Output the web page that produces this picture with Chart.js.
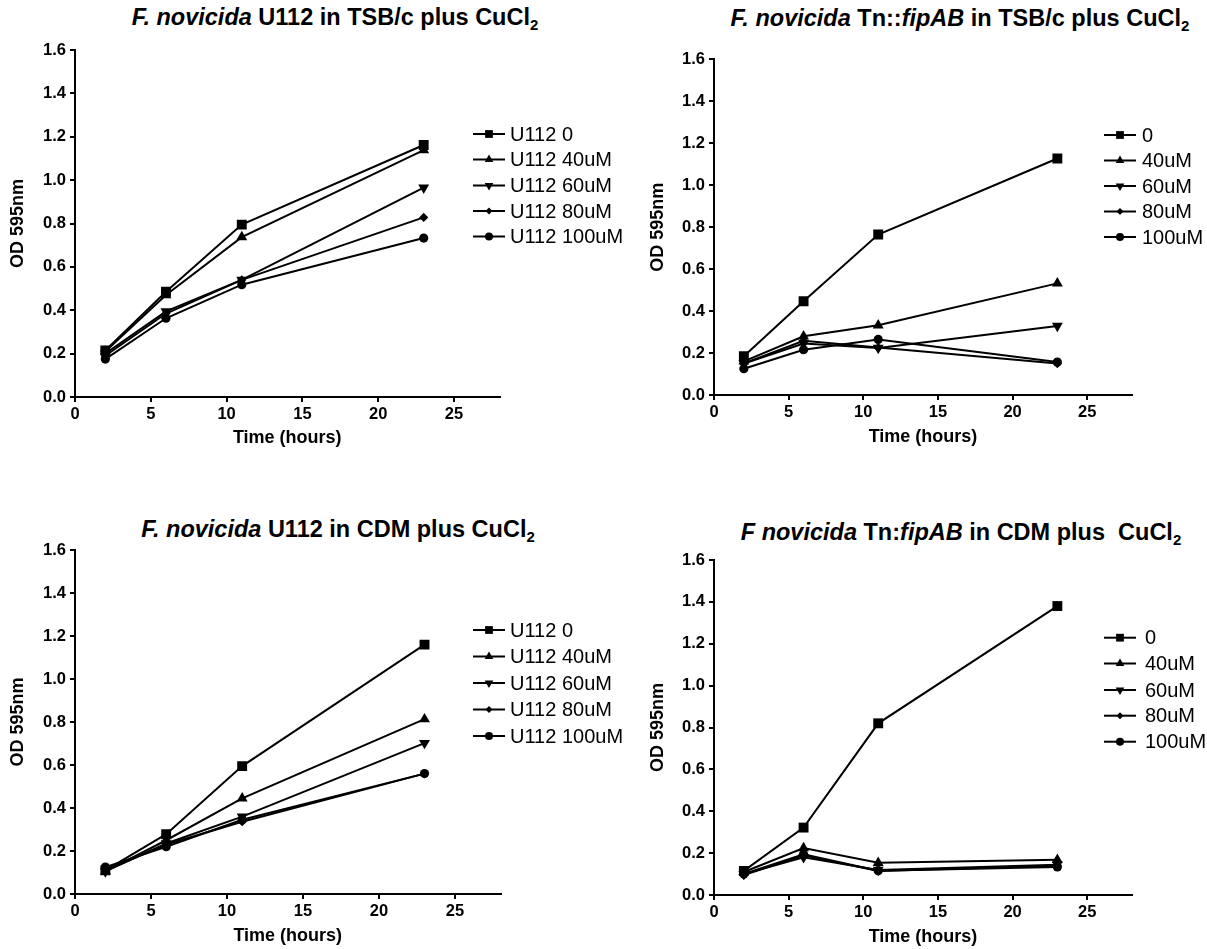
<!DOCTYPE html>
<html><head><meta charset="utf-8">
<script src="https://cdn.jsdelivr.net/npm/chart.js@4.4.1/dist/chart.umd.min.js"></script>
<style>
html,body{margin:0;padding:0;background:#fff;width:1207px;height:949px;overflow:hidden;position:relative;font-family:"Liberation Sans",Arial,sans-serif;}
.title{position:absolute;font-weight:bold;font-size:23.5px;white-space:nowrap;transform:translate(-50%,-50%);color:#000;line-height:1;}
.title sub{font-size:15px;position:relative;top:5px;vertical-align:baseline;line-height:0}
canvas{position:absolute}
</style></head><body>
<div class="title" style="left:335px;top:18px"><i>F. novicida</i> U112 in TSB/c plus CuCl<sub>2</sub></div>
<div class="title" style="left:960px;top:19px"><i>F. novicida</i> Tn::<i>fipAB</i> in TSB/c plus CuCl<sub>2</sub></div>
<div class="title" style="left:338px;top:530px"><i>F. novicida</i> U112 in CDM plus CuCl<sub>2</sub></div>
<div class="title" style="left:961px;top:533px"><i>F novicida</i> Tn:<i>fipAB</i> in CDM plus&nbsp; CuCl<sub>2</sub></div>
<canvas id="c1" width="640" height="470" style="left:0;top:0"></canvas>
<canvas id="c2" width="567" height="470" style="left:640px;top:0"></canvas>
<canvas id="c3" width="640" height="474" style="left:0;top:475px"></canvas>
<canvas id="c4" width="567" height="474" style="left:640px;top:475px"></canvas>
<script>
// ---- data ----
const timeHours = [2, 6, 11, 23];
const xTicks = [0, 5, 10, 15, 20, 25];
const yTicks = [0.0, 0.2, 0.4, 0.6, 0.8, 1.0, 1.2, 1.4, 1.6];

const u112Labels = ['U112 0', 'U112 40uM', 'U112 60uM', 'U112 80uM', 'U112 100uM'];
const fipLabels = ['0', '40uM', '60uM', '80uM', '100uM'];

// Panel 1: U112 in TSB/c
const tsbU112_0   = [0.215, 0.485, 0.795, 1.162];
const tsbU112_40  = [0.210, 0.470, 0.737, 1.138];
const tsbU112_60  = [0.200, 0.395, 0.540, 0.965];
const tsbU112_80  = [0.190, 0.385, 0.540, 0.828];
const tsbU112_100 = [0.175, 0.363, 0.518, 0.733];

// Panel 2: Tn::fipAB in TSB/c
const tsbFip_0   = [0.185, 0.447, 0.765, 1.127];
const tsbFip_40  = [0.160, 0.280, 0.332, 0.532];
const tsbFip_60  = [0.150, 0.245, 0.224, 0.329];
const tsbFip_80  = [0.150, 0.258, 0.226, 0.150];
const tsbFip_100 = [0.125, 0.216, 0.265, 0.157];

// Panel 3: U112 in CDM
const cdmU112_0   = [0.110, 0.278, 0.595, 1.160];
const cdmU112_40  = [0.105, 0.250, 0.445, 0.813];
const cdmU112_60  = [0.105, 0.235, 0.360, 0.702];
const cdmU112_80  = [0.110, 0.230, 0.336, 0.560];
const cdmU112_100 = [0.125, 0.220, 0.345, 0.560];

// Panel 4: Tn:fipAB in CDM
const cdmFip_0   = [0.115, 0.322, 0.820, 1.380];
const cdmFip_40  = [0.110, 0.224, 0.154, 0.168];
const cdmFip_60  = [0.100, 0.180, 0.120, 0.145];
const cdmFip_80  = [0.095, 0.190, 0.115, 0.140];
const cdmFip_100 = [0.100, 0.195, 0.116, 0.134];

// ---- styles ----
const FONT = '"Liberation Sans", Arial, sans-serif';
const markers = [
  {style: 'rect', r: 7, rot: 0, lr: 5.5},
  {style: 'triangle', r: 6.3, rot: 0, lr: 5},
  {style: 'triangle', r: 6.3, rot: 180, lr: 5},
  {style: 'rectRot', r: 4.6, rot: 0, lr: 3.5},
  {style: 'circle', r: 4.6, rot: 0, lr: 4}
];

function drawMarker(ctx, m, x, y, r) {
  ctx.beginPath();
  if (m.style === 'rect') {
    const s = r * Math.SQRT1_2;
    ctx.rect(x - s, y - s, 2 * s, 2 * s);
  } else if (m.style === 'triangle') {
    const sgn = m.rot === 180 ? -1 : 1;
    const a0 = -Math.PI / 2;
    for (let i = 0; i < 3; i++) {
      const a = a0 + i * 2 * Math.PI / 3;
      const px = x + r * Math.cos(a), py = y + sgn * r * Math.sin(a);
      if (i === 0) ctx.moveTo(px, py); else ctx.lineTo(px, py);
    }
    ctx.closePath();
  } else if (m.style === 'rectRot') {
    ctx.moveTo(x, y - r); ctx.lineTo(x + r, y); ctx.lineTo(x, y + r); ctx.lineTo(x - r, y); ctx.closePath();
  } else {
    ctx.arc(x, y, r, 0, Math.PI * 2);
  }
  ctx.fill();
}

const legendPlugin = {
  id: 'sideLegend',
  afterDraw(chart, args, opts) {
    const ctx = chart.ctx;
    ctx.save();
    ctx.strokeStyle = '#000'; ctx.fillStyle = '#000'; ctx.lineWidth = 2;
    ctx.font = opts.fontSize + 'px ' + FONT;
    ctx.textBaseline = 'middle'; ctx.textAlign = 'left';
    chart.data.datasets.forEach((ds, i) => {
      const y = opts.rows[i];
      ctx.beginPath(); ctx.moveTo(opts.x0, y); ctx.lineTo(opts.x1, y); ctx.stroke();
      drawMarker(ctx, markers[i], (opts.x0 + opts.x1) / 2, y, markers[i].lr);
      ctx.fillText(ds.label, opts.textX, y + 1);
    });
    ctx.restore();
  }
};

function makeChart(id, cfg) {
  const datasets = cfg.series.map((vals, i) => ({
    label: cfg.labels[i],
    data: vals.map((v, k) => ({x: timeHours[k], y: v})),
    borderColor: '#000', backgroundColor: '#000', borderWidth: 2,
    pointStyle: markers[i].style, pointRotation: markers[i].rot,
    pointRadius: markers[i].r, pointBorderWidth: 0, pointHoverRadius: markers[i].r,
    tension: 0, fill: false
  }));
  const tickFont = {family: FONT, size: 16.5, weight: 'bold'};
  const titleFont = {family: FONT, size: 18, weight: 'bold'};
  new Chart(document.getElementById(id), {
    type: 'line',
    data: {datasets},
    options: {
      responsive: false, animation: false, events: [],
      layout: {padding: {left: 0, top: cfg.T, right: cfg.padRight, bottom: 0}},
      plugins: {legend: {display: false}, tooltip: {enabled: false}, sideLegend: cfg.legend},
      scales: {
        x: {
          type: 'linear', min: 0, max: 28,
          afterBuildTicks: s => { s.ticks = xTicks.map(v => ({value: v})); },
          ticks: {stepSize: 5, includeBounds: false, color: '#000', font: tickFont, padding: 3, maxRotation: 0, autoSkip: false},
          grid: {display: true, drawOnChartArea: false, drawTicks: true, tickLength: 5, color: '#000', lineWidth: 2},
          border: {display: true, color: '#000', width: 2},
          title: {display: true, text: 'Time (hours)', color: '#000', font: titleFont, padding: {top: 0, bottom: cfg.xTitlePad}},
          afterFit: s => { s.height = cfg.xHeight; }
        },
        y: {
          type: 'linear', min: 0, max: 1.6,
          afterBuildTicks: s => { s.ticks = yTicks.map(v => ({value: v})); },
          ticks: {stepSize: 0.2, color: '#000', font: tickFont, padding: 4, callback: v => v.toFixed(1)},
          grid: {display: true, drawOnChartArea: false, drawTicks: true, tickLength: 5, color: '#000', lineWidth: 2},
          border: {display: true, color: '#000', width: 2},
          title: {display: true, text: 'OD 595nm', color: '#000', font: titleFont, padding: {top: cfg.yTitlePad, bottom: 0}},
          afterFit: s => { s.width = cfg.yWidth; }
        }
      }
    },
    plugins: [legendPlugin]
  });
}

makeChart('c1', {
  labels: u112Labels,
  series: [tsbU112_0, tsbU112_40, tsbU112_60, tsbU112_80, tsbU112_100],
  T: 50, padRight: 140.5, yWidth: 75, xHeight: 73, yTitlePad: 7.5, xTitlePad: 21.2,
  legend: {x0: 473, x1: 505, textX: 510, fontSize: 20, rows: [134, 159.5, 185.5, 211, 236.5]}
});
makeChart('c2', {
  labels: fipLabels,
  series: [tsbFip_0, tsbFip_40, tsbFip_60, tsbFip_80, tsbFip_100],
  T: 59.3, padRight: 75, yWidth: 74, xHeight: 75, yTitlePad: 7.5, xTitlePad: 22.2,
  legend: {x0: 464, x1: 496, textX: 502, fontSize: 20, rows: [135, 160.5, 186, 211.5, 237]}
});
makeChart('c3', {
  labels: u112Labels,
  series: [cdmU112_0, cdmU112_40, cdmU112_60, cdmU112_80, cdmU112_100],
  T: 75, padRight: 139.5, yWidth: 75, xHeight: 55, yTitlePad: 7.5, xTitlePad: 2.2,
  legend: {x0: 473, x1: 505, textX: 510, fontSize: 20, rows: [155, 181.5, 208, 234.5, 261]}
});
makeChart('c4', {
  labels: fipLabels,
  series: [cdmFip_0, cdmFip_40, cdmFip_60, cdmFip_80, cdmFip_100],
  T: 85, padRight: 75, yWidth: 74, xHeight: 54, yTitlePad: 7.5, xTitlePad: 1.2,
  legend: {x0: 464, x1: 496, textX: 505, fontSize: 20, rows: [162.7, 188.5, 215, 240.7, 266.7]}
});
</script>
</body></html>
